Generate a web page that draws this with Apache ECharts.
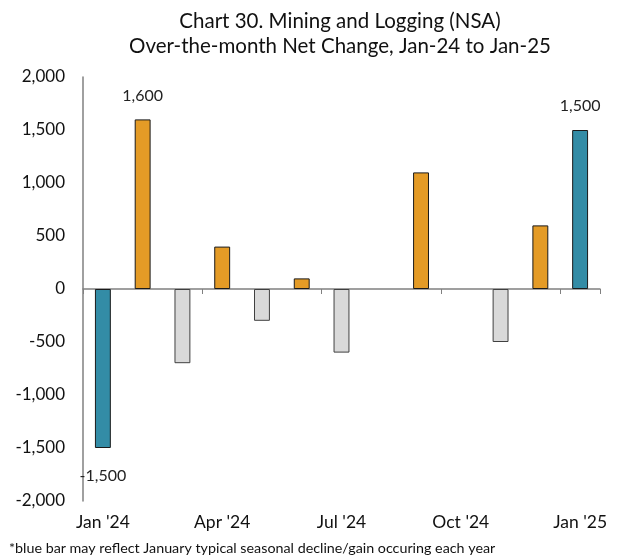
<!DOCTYPE html>
<html><head><meta charset="utf-8">
<script src="https://cdn.jsdelivr.net/npm/echarts@6/dist/echarts.min.js"></script>
<style>html,body{margin:0;padding:0;background:#fff}#c{width:620px;height:557px}</style>
</head><body><div id="c"></div>
<script>
const categories = ["Jan '24","Feb '24","Mar '24","Apr '24","May '24","Jun '24","Jul '24","Aug '24","Sep '24","Oct '24","Nov '24","Dec '24","Jan '25"];
const values = [-1500, 1600, -700, 400, -300, 100, -600, 0, 1100, 0, -500, 600, 1500];
const barKinds = ["jan","gain","loss","gain","loss","gain","loss","gain","gain","gain","loss","gain","jan"];
const labelled = [true,true,false,false,false,false,false,false,false,false,false,false,true];
const titleLines = ["Chart 30. Mining and Logging (NSA)","Over-the-month Net Change, Jan-24 to Jan-25"];
const footnote = "*blue bar may reflect January typical seasonal decline/gain occuring each year";

const FONT = "Lato";
const kindStyle = {
  jan: {color:'#338CA6', borderColor:'#1a1a1a'},
  gain: {color:'#E49B26', borderColor:'#1a1a1a'},
  loss: {color:'#D9D9D9', borderColor:'#404040'}
};
const fmt = v => v.toLocaleString('en-US');
const data = values.map((v,i)=>({
  value:v,
  itemStyle:Object.assign({borderWidth: v===0?0:1}, kindStyle[barKinds[i]]),
  label:{show:labelled[i], position: v<0?'bottom':'top', distance: v<0?20:16, formatter:p=>fmt(p.value), fontFamily:FONT, fontSize:16, color:'#222'}
}));
const chart = echarts.init(document.getElementById('c'));
chart.setOption({
  animation:false,
  title:[{text:titleLines.join('\n'), left:335, textAlign:'center', top:4, textStyle:{fontFamily:FONT, fontSize:20.5, fontWeight:'normal', color:'#111', lineHeight:25}},
         {text:footnote, left:4, top:536, textStyle:{fontFamily:FONT, fontSize:14.3, fontWeight:'normal', color:'#111'}}],
  grid:{left:83, right:20, top:77, bottom:56, containLabel:false},
  xAxis:{type:'category', data:categories, boundaryGap:true,
    axisLine:{onZero:true, lineStyle:{color:'#808080', width:1.5}},
    axisTick:{show:true, interval:2, length:5, inside:false, lineStyle:{color:'#808080'}},
    axisLabel:{show:false, interval:2}
  },
  yAxis:{type:'value', min:-2000, max:2000, interval:500,
    axisLine:{show:true, lineStyle:{color:'#808080', width:1.5}},
    axisTick:{show:false}, splitLine:{show:false},
    axisLabel:{fontFamily:FONT, fontSize:17, color:'#111', margin:18, formatter:v=>fmt(v)}
  },
  series:[{type:'bar', data:data, barWidth:'40%'}]
});
const xLabelY = 522;
const g = [];
categories.forEach((c,i)=>{
  if(i%3===0){
    const x = chart.convertToPixel({xAxisIndex:0}, c);
    g.push({type:'text', x:x, y:xLabelY, style:{text:c, fontFamily:FONT, fontSize:17.5, fill:'#111', align:'center', verticalAlign:'middle'}});
  }
});
chart.setOption({graphic:g});
</script></body></html>
